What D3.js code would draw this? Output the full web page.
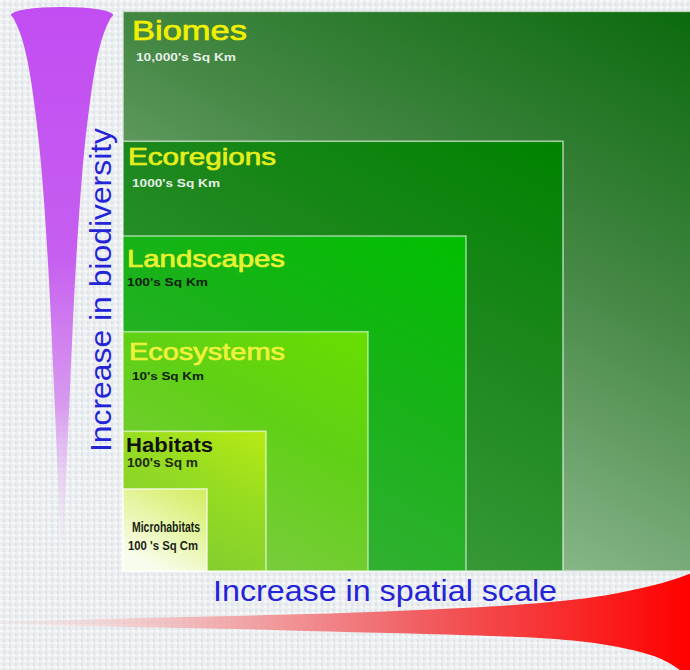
<!DOCTYPE html>
<html>
<head>
<meta charset="utf-8">
<script src="https://cdn.jsdelivr.net/npm/d3@7"></script>
<style>
  html, body { margin: 0; padding: 0; background: #eceef0; }
  svg { display: block; }
</style>
</head>
<body>
<div id="chart"></div>
<script>
// nested levels, smallest first
const levels = ["Microhabitats", "Habitats", "Ecosystems", "Landscapes", "Ecoregions", "Biomes"];
const areas = ["100 's Sq Cm", "100's Sq m", "10's Sq Km", "100's Sq Km", "1000's Sq Km", "10,000's Sq Km"];
// relative extent of each square (same units on both axes)
const extents = [84, 143, 245, 343, 440, 573];

// horn outlines: [position along horn, half width]
const biodiversityHorn = [[14, 51], [30, 42], [60, 34], [100, 28], [150, 22], [200, 18], [260, 14],
  [330, 10.5], [400, 7.5], [470, 4.5], [540, 1.5], [560, 0.5]];
// [x, top, bottom]
const spatialHorn = [[0, 621.5, 624], [100, 619, 626.5], [180, 617, 628], [280, 615, 630], [380, 612, 633],
  [470, 608, 635], [547, 603, 638], [600, 597, 643], [647, 587, 653], [670, 581, 662], [700, 570, 685]];

const width = 690, height = 670;

// looks for each level (not data)
const boxStyle = [
  { dark: "#d2ec5c", mid: "#e4f49c", light: "#f8fcec", border: "rgba(255,255,255,0.7)" },
  { dark: "#b8ea12", mid: "#96dc22", light: "#80cc30", border: "rgba(255,255,255,0.6)" },
  { dark: "#68de00", mid: "#60d016", light: "#7ccc40", border: "rgba(255,255,255,0.55)" },
  { dark: "#00bf00", mid: "#18b218", light: "#38b038", border: "rgba(255,255,255,0.55)" },
  { dark: "#008200", mid: "#1e881e", light: "#3e9e3e", border: "rgba(255,255,255,0.6)" },
  { dark: "#0a6a0c", mid: "#468846", light: "#9cc49c", border: "rgba(220,230,220,0.8)" }
];
const labelStyle = [
  { dx: 9, dy: 43, size: 15, weight: "bold", len: 68, fill: "#1a1f14", sdx: 5, sdy: 61, ssize: 12, sweight: "bold", slen: 70, sfill: "#1a1f14" },
  { dx: 3, dy: 21, size: 20, weight: "bold", len: 87, fill: "#111", sdx: 4, sdy: 36, ssize: 12, sweight: "bold", slen: 71, sfill: "#1e2a10" },
  { dx: 6, dy: 28, size: 24, weight: "normal", len: 156, fill: "#eef23c", sdx: 9, sdy: 48, ssize: 11, sweight: "bold", slen: 72, sfill: "#102010" },
  { dx: 4, dy: 31, size: 24, weight: "normal", len: 158, fill: "#e8f232", sdx: 4, sdy: 50, ssize: 11, sweight: "bold", slen: 81, sfill: "#102010" },
  { dx: 5, dy: 24, size: 24, weight: "normal", len: 148, fill: "#e6ef1e", sdx: 9, sdy: 46, ssize: 11, sweight: "bold", slen: 88, sfill: "#e6eee6" },
  { dx: 9, dy: 29, size: 28, weight: "normal", len: 115, fill: "#f0f000", sdx: 13, sdy: 50, ssize: 11, sweight: "bold", slen: 100, sfill: "#e6eee6" }
];

const svg = d3.select("#chart")
  .append("svg")
  .attr("width", width)
  .attr("height", height)
  .style("font-family", "'Liberation Sans', Arial, sans-serif");

const defs = svg.append("defs");

// fabric-like texture
const pat = defs.append("pattern")
  .attr("id", "weave")
  .attr("width", 6).attr("height", 6)
  .attr("patternUnits", "userSpaceOnUse");
pat.append("rect").attr("width", 6).attr("height", 6).attr("fill", "#eceff1");
pat.append("rect").attr("x", 0).attr("y", 0).attr("width", 3).attr("height", 2).attr("fill", "#f7f8f9");
pat.append("rect").attr("x", 3).attr("y", 3).attr("width", 2).attr("height", 3).attr("fill", "#dfe3e6");

svg.append("rect")
  .attr("width", width)
  .attr("height", height)
  .attr("fill", "url(#weave)");

// scales
const x = d3.scaleLinear().domain([0, 600]).range([123, 723]);
const y = d3.scaleLinear().domain([0, 600]).range([571, 571 - 586]);

// gradients for the squares
levels.forEach((name, i) => {
  const g = defs.append("linearGradient")
    .attr("id", "grad-" + i)
    .attr("x1", 1).attr("y1", 0)
    .attr("x2", 0.45).attr("y2", 1);
  g.append("stop").attr("offset", "0%").attr("stop-color", boxStyle[i].dark);
  g.append("stop").attr("offset", "45%").attr("stop-color", boxStyle[i].mid);
  g.append("stop").attr("offset", "100%").attr("stop-color", boxStyle[i].light);
});

const boxes = svg.append("g");
const order = d3.range(levels.length).reverse();

order.forEach(i => {
  const e = extents[i];
  boxes.append("rect")
    .attr("x", x(0))
    .attr("y", y(e))
    .attr("width", x(e) - x(0))
    .attr("height", y(0) - y(e))
    .attr("fill", "url(#grad-" + i + ")")
    .attr("stroke", boxStyle[i].border)
    .attr("stroke-width", 1.6);

  const s = labelStyle[i];
  boxes.append("text")
    .attr("x", x(0) + s.dx)
    .attr("y", y(e) + s.dy)
    .attr("font-size", s.size)
    .attr("font-weight", s.weight)
    .attr("fill", s.fill)
    .attr("stroke", s.weight === "normal" ? s.fill : "none")
    .attr("stroke-width", 0.7)
    .attr("textLength", s.len)
    .attr("lengthAdjust", "spacingAndGlyphs")
    .text(levels[i]);

  boxes.append("text")
    .attr("x", x(0) + s.sdx)
    .attr("y", y(e) + s.sdy)
    .attr("font-size", s.ssize)
    .attr("font-weight", s.sweight)
    .attr("fill", s.sfill)
    .attr("textLength", s.slen)
    .attr("lengthAdjust", "spacingAndGlyphs")
    .text(areas[i]);
});

// purple horn (biodiversity)
const pg = defs.append("linearGradient")
  .attr("id", "purple")
  .attr("gradientUnits", "userSpaceOnUse")
  .attr("x1", 0).attr("y1", 6).attr("x2", 0).attr("y2", 560);
pg.append("stop").attr("offset", "0%").attr("stop-color", "#c24df2");
pg.append("stop").attr("offset", "45%").attr("stop-color", "#c65ef0");
pg.append("stop").attr("offset", "72%").attr("stop-color", "#d590ee").attr("stop-opacity", 0.9);
pg.append("stop").attr("offset", "100%").attr("stop-color", "#f2e4f8").attr("stop-opacity", 0.1);

const hornX = 62;
const vArea = d3.area()
  .y(d => d[0])
  .x0(d => hornX - d[1])
  .x1(d => hornX + d[1])
  .curve(d3.curveBasis);

svg.append("ellipse")
  .attr("cx", hornX)
  .attr("cy", 15)
  .attr("rx", 51)
  .attr("ry", 8)
  .attr("fill", "#c24df2");

svg.append("path")
  .datum(biodiversityHorn)
  .attr("d", vArea)
  .attr("fill", "url(#purple)");

// red horn (spatial scale)
const rg = defs.append("linearGradient")
  .attr("id", "red")
  .attr("gradientUnits", "userSpaceOnUse")
  .attr("x1", 0).attr("y1", 0).attr("x2", 690).attr("y2", 0);
rg.append("stop").attr("offset", "0%").attr("stop-color", "#f6d4d6").attr("stop-opacity", 0.2);
rg.append("stop").attr("offset", "30%").attr("stop-color", "#f2a6a8").attr("stop-opacity", 0.85);
rg.append("stop").attr("offset", "60%").attr("stop-color", "#f06064");
rg.append("stop").attr("offset", "85%").attr("stop-color", "#fa2424");
rg.append("stop").attr("offset", "100%").attr("stop-color", "#ff0000");

const hArea = d3.area()
  .x(d => d[0])
  .y0(d => d[1])
  .y1(d => d[2])
  .curve(d3.curveBasis);

svg.append("path")
  .datum(spatialHorn)
  .attr("d", hArea)
  .attr("fill", "url(#red)");

// axis titles
svg.append("text")
  .attr("x", 213)
  .attr("y", 601)
  .attr("font-size", 29)
  .attr("fill", "#2424d6")
  .attr("textLength", 344)
  .attr("lengthAdjust", "spacingAndGlyphs")
  .text("Increase in spatial scale");

svg.append("text")
  .attr("transform", "translate(111,452) rotate(-90)")
  .attr("font-size", 29)
  .attr("fill", "#2424d6")
  .attr("textLength", 324)
  .attr("lengthAdjust", "spacingAndGlyphs")
  .text("Increase in biodiversity");
</script>
</body>
</html>
